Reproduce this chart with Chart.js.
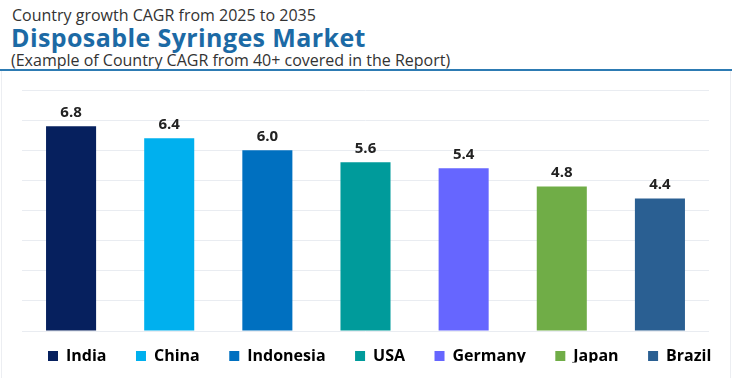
<!DOCTYPE html>
<html>
<head>
<meta charset="utf-8">
<script src="https://cdn.jsdelivr.net/npm/chart.js@4"></script>
<style>
  html, body { margin: 0; padding: 0; background: #fff; }
  body { width: 732px; height: 378px; position: relative; overflow: hidden; font-family: "Open Sans", sans-serif; }
  .t1 { position: absolute; left: 12px; top: 4px; font-size: 16px; color: #333; white-space: nowrap; }
  .t2 { position: absolute; left: 11px; top: 20px; font-size: 25px; font-weight: 700; color: #1c6aa5; white-space: nowrap; letter-spacing: 0.4px; }
  .t3 { position: absolute; left: 11px; top: 49px; font-size: 16px; color: #333; white-space: nowrap; }
  .rule { position: absolute; left: 0; top: 69px; width: 732px; height: 2px; background: #2d7bb3; }
  .frame { position: absolute; left: 1px; top: 71px; width: 728px; height: 307px; border-left: 1px solid #eceef2; border-right: 1px solid #eceef2; }
  .wrap { position: absolute; left: 0; top: 74px; width: 732px; height: 304px; }
</style>
</head>
<body>
<div class="t1">Country growth CAGR from 2025 to 2035</div>
<div class="t2">Disposable Syringes Market</div>
<div class="t3">(Example of Country CAGR from 40+ covered in the Report)</div>
<div class="rule"></div>
<div class="frame"></div>
<div class="wrap"><canvas id="myChart"></canvas></div>
<script>
const countries = ['India', 'China', 'Indonesia', 'USA', 'Germany', 'Japan', 'Brazil']
const cagr = [6.8, 6.4, 6.0, 5.6, 5.4, 4.8, 4.4]
const colors = ['#06205e', '#00b0ee', '#0070c0', '#009b9b', '#6666ff', '#70ad47', '#2a5f92']

const ctx = document.getElementById('myChart')
const legendGap = 29.5

// value labels above each bar
const valueLabels = {
    id: 'valueLabels',
    afterDatasetsDraw(chart) {
        const c = chart.ctx
        const meta = chart.getDatasetMeta(0)
        c.save()
        c.font = 'bold 15px "Open Sans", sans-serif'
        c.fillStyle = '#222'
        c.textAlign = 'center'
        c.textBaseline = 'bottom'
        meta.data.forEach((bar, i) => {
            c.fillText(cagr[i].toFixed(1), bar.x, bar.y - 6)
        })
        c.restore()
    }
}

// let the legend use the full width on one row and sit closer to the bars
const legendTweak = {
    id: 'legendTweak',
    beforeInit(chart) {
        const legend = chart.legend
        const fit = legend.fit
        legend.fit = function () {
            this.maxWidth = 2000
            fit.call(this)
            this.height -= 11.5
        }
    },
    afterLayout(chart) {
        const legend = chart.legend
        const lw = legend.lineWidths[0]
        legend.right = 900
        legend.left = 2 * 48 - legendGap - legend.right + lw
        legend.top -= 12.5
        legend.bottom -= 12.5
    }
}

new Chart(ctx, {
    type: 'bar',
    data: {
        labels: countries,
        datasets: [{
            label: 'CAGR',
            data: cagr,
            backgroundColor: colors,
            borderWidth: 0,
            barPercentage: 0.51,
            categoryPercentage: 1
        }]
    },
    options: {
        responsive: true,
        maintainAspectRatio: false,
        animation: false,
        layout: { padding: { left: 22, right: 23, top: 16, bottom: 3 } },
        scales: {
            x: { display: false },
            y: {
                min: 0,
                max: 8,
                ticks: { display: false, stepSize: 1 },
                border: { display: false },
                grid: { color: '#e9ecf1', drawTicks: false }
            }
        },
        plugins: {
            tooltip: { enabled: false },
            legend: {
                position: 'bottom',
                labels: {
                    boxWidth: 10,
                    boxHeight: 10,
                    padding: legendGap,
                    color: '#222',
                    font: { family: '"Open Sans", sans-serif', size: 16, weight: 'bold' },
                    generateLabels: () => countries.map((name, i) => ({
                        text: name,
                        fillStyle: colors[i],
                        strokeStyle: colors[i],
                        lineWidth: 0,
                        index: i
                    }))
                }
            }
        }
    },
    plugins: [valueLabels, legendTweak]
})
</script>
</body>
</html>
